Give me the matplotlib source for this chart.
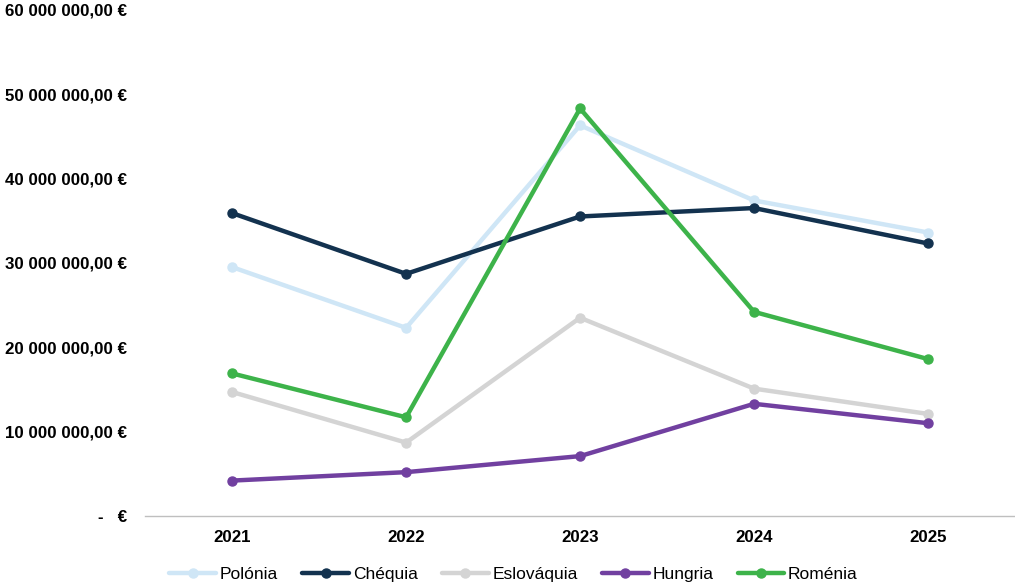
import matplotlib
matplotlib.use("Agg")
import matplotlib.pyplot as plt
from matplotlib.ticker import FuncFormatter

years = ["2021", "2022", "2023", "2024", "2025"]
polonia = [29.5e6, 22.3e6, 46.3e6, 37.4e6, 33.6e6]
chequia = [35.9e6, 28.7e6, 35.5e6, 36.5e6, 32.3e6]
eslovaquia = [14.7e6, 8.7e6, 23.5e6, 15.1e6, 12.1e6]
hungria = [4.2e6, 5.2e6, 7.1e6, 13.3e6, 11.0e6]
romenia = [16.9e6, 11.7e6, 48.3e6, 24.2e6, 18.6e6]

series = [
    ("Polónia", polonia, "#cfe6f6"),
    ("Chéquia", chequia, "#13324f"),
    ("Eslováquia", eslovaquia, "#d4d4d4"),
    ("Hungria", hungria, "#7140a0"),
    ("Roménia", romenia, "#3db34a"),
]

plt.rcParams['font.family'] = ['Liberation Sans', 'DejaVu Sans']

fig = plt.figure(figsize=(10.15, 5.88), dpi=100)
ax = fig.add_axes([0.143, 0.1224, 0.857, 0.861])

x = list(range(len(years)))
for name, vals, col in series:
    ax.plot(x, vals, color=col, lw=3.2, marker='o', markersize=6.5,
            label=name, solid_capstyle='round')

ax.set_xlim(-0.5, 4.5)
ax.set_ylim(0, 60e6)
ax.set_yticks([i * 10e6 for i in range(7)])
ax.set_xticks(x)
ax.set_xticklabels(years)

def fmt(v, pos):
    if v == 0:
        return "-   €"
    s = f"{int(round(v)):,}".replace(",", " ")
    return s + ",00 €"

ax.yaxis.set_major_formatter(FuncFormatter(fmt))
for lab in ax.get_yticklabels() + ax.get_xticklabels():
    lab.set_fontweight('bold')
    lab.set_fontsize(12.2)
ax.tick_params(axis='y', length=0, pad=13)
ax.tick_params(axis='x', length=0, pad=10)

for s in ['top', 'right', 'left']:
    ax.spines[s].set_visible(False)
ax.spines['bottom'].set_color('#bfbfbf')
ax.spines['bottom'].set_linewidth(1.0)

leg = fig.legend(loc='lower center', bbox_to_anchor=(0.506, -0.016), ncol=5,
                 frameon=False, handlelength=2.7, handletextpad=0.2,
                 columnspacing=1.4, prop={'size': 12.5})

fig.savefig("out.png", dpi=100)
